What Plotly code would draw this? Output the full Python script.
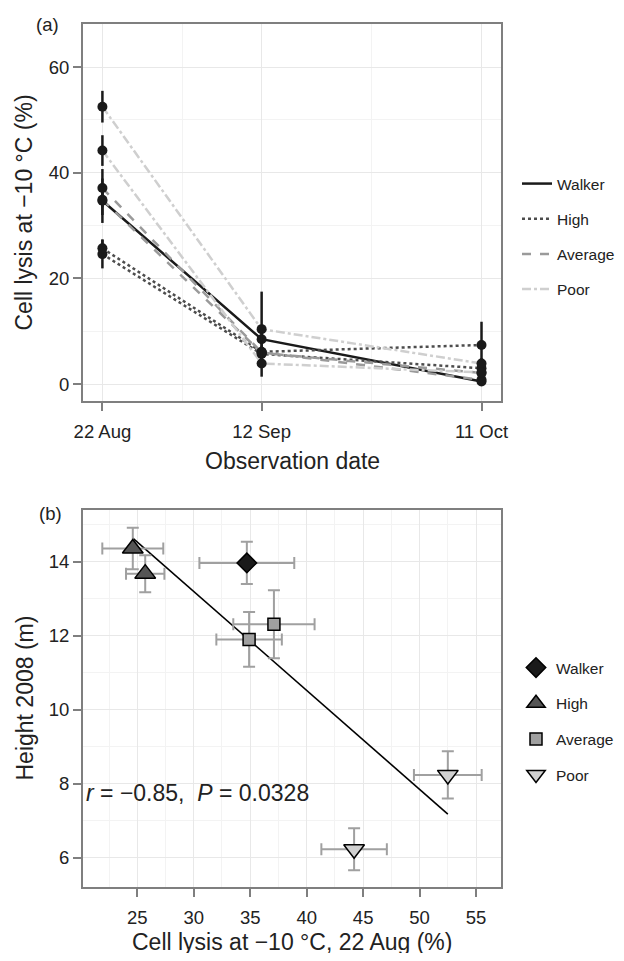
import numpy as np
import pandas as pd
import plotly.graph_objects as go

# ---------------- data ----------------
clones = ["Walker", "High-1", "High-2", "Average-1", "Average-2", "Poor-1", "Poor-2"]
groups = ["Walker", "High", "High", "Average", "Average", "Poor", "Poor"]

obs_dates = ["2008-08-22", "2008-09-12", "2008-10-11"]
date_labels = ["22 Aug", "12 Sep", "11 Oct"]

lysis_22aug = [34.7, 24.6, 25.7, 34.9, 37.1, 52.5, 44.2]
se_22aug = [4.2, 2.7, 1.7, 2.9, 3.6, 3.0, 2.9]
lysis_12sep = [8.5, 5.7, 6.1, 5.9, 6.0, 10.4, 3.9]
se_12sep = [1.5, 0.8, 1.0, 1.2, 1.0, 7.1, 2.5]
lysis_11oct = [0.5, 3.0, 7.4, 2.1, 0.8, 3.9, 2.2]
se_11oct = [0.5, 0.9, 4.4, 0.8, 0.6, 1.0, 0.8]

height_2008 = [13.97, 14.36, 13.68, 11.90, 12.31, 8.24, 6.23]
height_se = [0.57, 0.56, 0.50, 0.74, 0.92, 0.64, 0.57]

stat_text = "<i>r</i> = \u22120.85,&nbsp; <i>P</i> = 0.0328"

# ---------------- styles ----------------
FONT = "Liberation Sans, Arial, Helvetica, sans-serif"
line_style = {
    "Walker": dict(color="#1a1a1a", dash="solid"),
    "High": dict(color="#4d4d4d", dash="dot"),
    "Average": dict(color="#9a9a9a", dash="dash"),
    "Poor": dict(color="#cfcfcf", dash="dashdot"),
}
marker_style = {
    "Walker": dict(symbol="diamond", size=15, color="#1a1a1a"),
    "High": dict(symbol="triangle-up", size=18, color="#555555"),
    "Average": dict(symbol="square", size=12, color="#a0a0a0"),
    "Poor": dict(symbol="triangle-down", size=18, color="#d0d0d0"),
}
AXC = "#7f7f7f"

d = pd.to_datetime(pd.Series(obs_dates))
days = (d - d.iloc[0]).dt.days.tolist()
mid_days = [(days[i] + days[i + 1]) / 2 for i in range(len(days) - 1)]

fig = go.Figure()

# ---- panel (a): lines ----
shown = set()
for i, g in enumerate(groups):
    ys = [lysis_22aug[i], lysis_12sep[i], lysis_11oct[i]]
    fig.add_trace(go.Scatter(
        x=days, y=ys, mode="lines", name=g, legendgroup=g,
        showlegend=g not in shown, legend="legend",
        line=dict(width=2.5, **line_style[g]),
        xaxis="x", yaxis="y", hoverinfo="skip"))
    shown.add(g)

# ---- panel (a): points with error bars ----
for i, g in enumerate(groups):
    ys = [lysis_22aug[i], lysis_12sep[i], lysis_11oct[i]]
    es = [se_22aug[i], se_12sep[i], se_11oct[i]]
    fig.add_trace(go.Scatter(
        x=days, y=ys, mode="markers", showlegend=False,
        marker=dict(size=10, color="#1a1a1a"),
        error_y=dict(type="data", array=es, color="#1a1a1a", thickness=2.5, width=0),
        xaxis="x", yaxis="y", hoverinfo="skip"))

# ---- panel (b): regression line ----
slope, intercept = np.polyfit(lysis_22aug, height_2008, 1)
xr = np.array([min(lysis_22aug), max(lysis_22aug)])
fig.add_trace(go.Scatter(
    x=xr, y=intercept + slope * xr, mode="lines", showlegend=False,
    line=dict(color="#000000", width=1.6), xaxis="x2", yaxis="y2", hoverinfo="skip"))

# ---- panel (b): points ----
shown = set()
for i, g in enumerate(groups):
    ms = marker_style[g]
    fig.add_trace(go.Scatter(
        x=[lysis_22aug[i]], y=[height_2008[i]], mode="markers", name=g,
        legendgroup=g + "_b", showlegend=g not in shown, legend="legend2",
        marker=dict(symbol=ms["symbol"], size=ms["size"], color=ms["color"],
                    line=dict(color="#000000", width=1.5)),
        error_x=dict(type="data", array=[se_22aug[i]], color="#a0a0a0", thickness=2, width=6),
        error_y=dict(type="data", array=[height_se[i]], color="#a0a0a0", thickness=2, width=6),
        xaxis="x2", yaxis="y2", hoverinfo="skip"))
    shown.add(g)

# ---------------- layout ----------------
# the page body adds an 8 px margin; figure sized/positioned to fit inside it
S = 8
W, H = 624 - 2 * S, 961 - 2 * S
ml, mt = 83 - S, 24 - S
mr = W - (501 - S)
mb = H - (887 - S)
pw, ph = W - ml - mr, H - mt - mb


def py(sy):  # screen y -> paper y
    return (H - mb - (sy - S)) / ph


def pxp(sx):  # screen x -> paper x
    return (sx - S - ml) / pw


common_axis = dict(
    showline=True, linecolor=AXC, linewidth=2, mirror=True,
    ticks="outside", ticklen=8, tickwidth=1.5, tickcolor=AXC,
    showgrid=True, gridcolor="#e8e8e8", gridwidth=1, zeroline=False,
    tickfont=dict(family=FONT, size=18.5, color="#222222"),
    automargin=False,
)
minor_grid = dict(showgrid=True, gridcolor="#f3f3f3", gridwidth=0.6, ticks="")

legend_font = dict(family=FONT, size=15.5, color="#222222")
fig.update_layout(
    width=W, height=H,
    margin=dict(l=ml, r=mr, t=mt, b=mb, autoexpand=False),
    paper_bgcolor="white", plot_bgcolor="white",
    font=dict(family=FONT, color="#222222"),
    xaxis=dict(domain=[0, 1], anchor="y", range=[-2.56, 52.57],
               tickvals=days, ticktext=date_labels, ticklabelstandoff=5,
               minor=dict(tickvals=mid_days, **minor_grid), **common_axis),
    yaxis=dict(domain=[py(401), 1], anchor="x", range=[-3.2, 68.15],
               tickvals=[0, 20, 40, 60],
               minor=dict(tickvals=[10, 30, 50], **minor_grid), **common_axis),
    xaxis2=dict(domain=[0, 1], anchor="y2", range=[20.19, 57.21],
                tickvals=[25, 30, 35, 40, 45, 50, 55], ticklabelstandoff=5,
                minor=dict(tickvals=[22.5, 27.5, 32.5, 37.5, 42.5, 47.5, 52.5], **minor_grid),
                **common_axis),
    yaxis2=dict(domain=[0, py(510)], anchor="x2", range=[5.21, 15.40],
                tickvals=[6, 8, 10, 12, 14],
                minor=dict(tickvals=[5, 7, 9, 11, 13, 15], **minor_grid), **common_axis),
    legend=dict(x=pxp(517), xanchor="left", y=py(167), yanchor="top",
                font=legend_font, tracegroupgap=12, traceorder="grouped",
                bgcolor="rgba(0,0,0,0)", itemwidth=30),
    legend2=dict(x=pxp(516), xanchor="left", y=py(651), yanchor="top",
                 font=legend_font, tracegroupgap=12.5, traceorder="grouped",
                 bgcolor="rgba(0,0,0,0)", itemwidth=30),
)

title_font = dict(family=FONT, size=23, color="#222222")
ann = [
    dict(text="Cell lysis at \u221210 \u00b0C (%)", x=pxp(24), y=(py(401) + 1) / 2,
         textangle=-90, font=title_font),
    dict(text="Observation date", x=0.5, y=py(461), font=title_font),
    dict(text="Height 2008 (m)", x=pxp(24), y=py(510) / 2, textangle=-90, font=title_font),
    dict(text="Cell lysis at \u221210 \u00b0C, 22 Aug (%)", x=0.5, y=py(942), font=title_font,
         height=22),
    dict(text="(a)", x=pxp(47), y=py(24), font=dict(family=FONT, size=18.5, color="#222222")),
    dict(text="(b)", x=pxp(50), y=py(513), font=dict(family=FONT, size=18.5, color="#222222")),
]
for a in ann:
    fig.add_annotation(xref="paper", yref="paper", showarrow=False,
                       xanchor="center", yanchor="middle", **a)

fig.add_annotation(text=stat_text, xref="x2", yref="y2", x=20.3, y=7.74,
                   xanchor="left", yanchor="middle", showarrow=False,
                   font=dict(family=FONT, size=23, color="#222222"))

fig.write_html("out.html")
